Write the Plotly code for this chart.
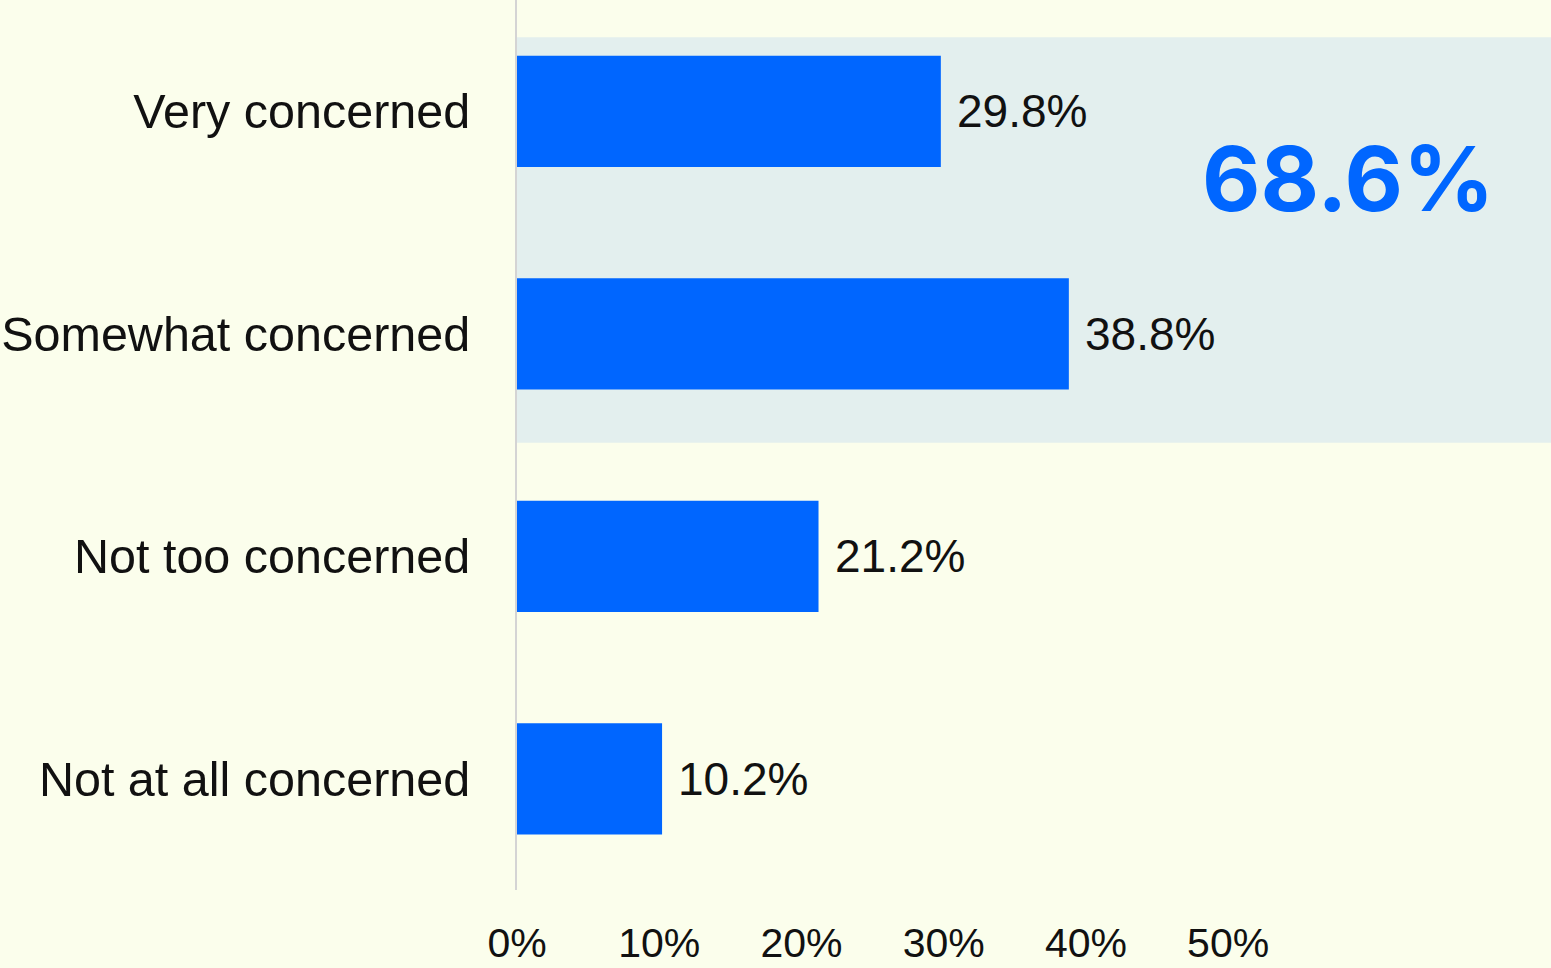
import plotly.graph_objects as go

categories = ["Very concerned", "Somewhat concerned", "Not too concerned", "Not at all concerned"]
values = [29.8, 38.8, 21.2, 10.2]
value_labels = ["29.8%", "38.8%", "21.2%", "10.2%"]
tick_vals = [0, 10, 20, 30, 40, 50]
tick_text = ["0%", "10%", "20%", "30%", "40%", "50%"]
highlight_label = "68.6%"

BG = "#fbfeec"
BAND = "#e3efee"
BLUE = "#0066ff"
FONT = "Liberation Sans"

fig = go.Figure()
fig.add_trace(go.Bar(
    y=categories, x=values, orientation="h",
    marker=dict(color=BLUE, line=dict(width=0)),
    width=0.5, hoverinfo="skip",
))

for c, v, t in zip(categories, values, value_labels):
    fig.add_annotation(x=v, y=c, text=t, showarrow=False, xanchor="left",
                       xshift=14, yshift=0,
                       font=dict(family=FONT, size=46, color="#111111"))

# highlighted band behind the top two categories
fig.add_shape(type="rect", xref="paper", yref="y", x0=0, x1=1,
              y0=-0.333, y1=1.49, fillcolor=BAND, line=dict(width=0), layer="below")

fig.add_annotation(x=58.4, y=0.30, xref="x", yref="y", text="<b>" + highlight_label + "</b>",
                   showarrow=False, xanchor="center", yanchor="middle",
                   font=dict(family="Inter", size=90, color=BLUE, weight=900))

fig.update_layout(
    width=1551, height=968,
    margin=dict(l=517, r=0, t=0, b=78, autoexpand=False),
    paper_bgcolor=BG, plot_bgcolor=BG,
    showlegend=False,
    font=dict(family=FONT, color="#111111"),
    xaxis=dict(range=[0, 72.7], tickvals=tick_vals, ticktext=tick_text,
               showgrid=False, zeroline=False, showline=False, automargin=False,
               ticks="", ticklabelstandoff=25,
               tickfont=dict(family=FONT, size=41, color="#111111")),
    yaxis=dict(categoryorder="array", categoryarray=categories,
               range=[3.5, -0.5], showgrid=False, zeroline=False, automargin=False,
               showline=True, linecolor="#d4d4d4", linewidth=2,
               ticks="", ticklabelstandoff=35,
               tickfont=dict(family=FONT, size=48.5, color="#111111")),
)

fig.write_html("out.html", config={"displayModeBar": False},
               post_script="document.body.style.margin='0';document.body.style.background='" + BG + "';")
